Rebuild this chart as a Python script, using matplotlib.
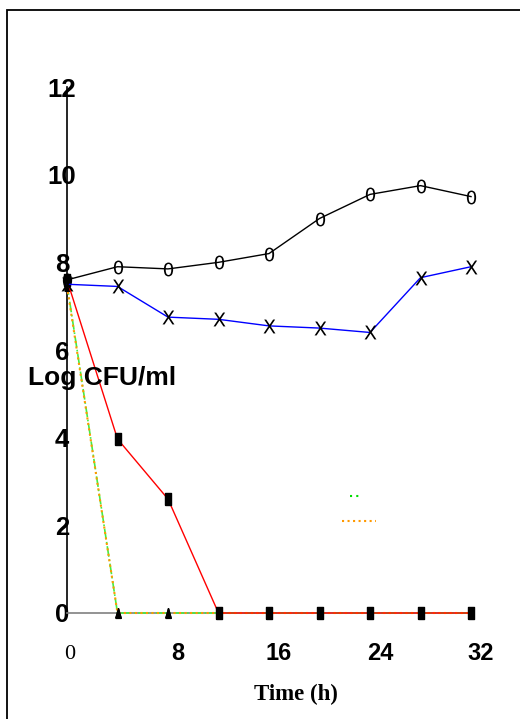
import matplotlib
matplotlib.use("Agg")
import matplotlib.pyplot as plt
from matplotlib.patches import Rectangle
from matplotlib.transforms import ScaledTranslation
from matplotlib.path import Path

# datos
tiempo = [0, 4, 8, 12, 16, 20, 24, 28, 32]
control = [7.6, 7.9, 7.85, 8.0, 8.2, 9.0, 9.55, 9.75, 9.5]
serie_x = [7.5, 7.45, 6.75, 6.7, 6.55, 6.5, 6.4, 7.65, 7.9]
serie_roja = [7.6, 3.97, 2.6, 0, 0, 0, 0, 0, 0]
serie_verde = [7.5, 0, 0, 0, 0, 0, 0, 0, 0]
serie_naranja = [7.45, 0, 0, 0, 0, 0, 0, 0, 0]

x_ticks = [0, 8, 16, 24, 32]
y_ticks = [0, 2, 4, 6, 8, 10, 12]

fig = plt.figure(figsize=(5.2, 7.19), dpi=100)
# marco exterior (se sale por la derecha y por abajo)
fig.patches.append(Rectangle((7 / 520, -0.1), 1.2, 1.1 - 10 / 719,
                             transform=fig.transFigure, fill=False,
                             edgecolor="black", linewidth=1.3))

ax = fig.add_axes([67 / 520, 106 / 719, 404 / 520, 526 / 719])
ax.set_xlim(0, 32)
ax.set_ylim(0, 12)

rect = Path([(-0.55, -1), (0.55, -1), (0.55, 1), (-0.55, 1), (-0.55, -1)])
tri = Path([(-0.55, -1), (0.55, -1), (0, 1), (-0.55, -1)])

ax.plot(tiempo, serie_verde, color="#44ee44", linestyle="-.", linewidth=1.2,
        marker=tri, markersize=7, markerfacecolor="black",
        markeredgecolor="black", clip_on=False, zorder=3)
ax.plot(tiempo, serie_naranja, color="#ff9900", linestyle=":", linewidth=1.5,
        marker=tri, markersize=7, markerfacecolor="black",
        markeredgecolor="black", clip_on=False, zorder=3)
ax.plot(tiempo, serie_roja, color="red", linewidth=1,
        marker=rect, markersize=9, markerfacecolor="black",
        markeredgecolor="black", clip_on=False, zorder=4)
ax.plot(tiempo, control, color="black", linewidth=1,
        marker=r"$\mathrm{0}$", markersize=10, markeredgewidth=0,
        markerfacecolor="black", clip_on=False, zorder=4)
ax.plot(tiempo, serie_x, color="blue", linewidth=1,
        marker=r"$\mathrm{X}$", markersize=10, markeredgewidth=0,
        markerfacecolor="black", clip_on=False, zorder=4)

# muestras de leyenda sin texto
ax.plot([0.70, 0.755], [0.222, 0.222], transform=ax.transAxes,
        color="#00dd00", linewidth=1.5, dashes=(1, 2, 1, 7))
ax.plot([0.68, 0.765], [0.175, 0.175], transform=ax.transAxes,
        color="#ff9900", linestyle=":", linewidth=1.5)

for s in ["top", "right"]:
    ax.spines[s].set_visible(False)
ax.spines["left"].set_color("black")
ax.spines["left"].set_linewidth(1.2)
ax.spines["bottom"].set_color("#808080")
ax.spines["bottom"].set_linewidth(1.2)
ax.tick_params(length=0)

ax.set_yticks(y_ticks)
ax.set_yticklabels([str(v) for v in y_ticks], fontsize=18.5, fontweight="bold",
                   family="Liberation Sans")
for lab in ax.get_yticklabels():
    lab.set_ha("center")
    lab.set_transform(lab.get_transform() + ScaledTranslation(-0.01, 0.02, fig.dpi_scale_trans))
ax.tick_params(axis="y", pad=3.5)

ax.set_xticks(x_ticks)
ax.set_xticklabels([str(v) for v in x_ticks], fontsize=17, fontweight="bold",
                   family="Liberation Sans")
ax.tick_params(axis="x", pad=21)
labs = ax.get_xticklabels()
labs[0].set_family("Liberation Serif")
labs[0].set_fontweight("normal")
labs[0].set_fontsize(16)
for i, lab in enumerate(labs):
    dx = 0.03 if i == 0 else 0.10
    dy = -0.03 if i == 0 else 0
    lab.set_transform(lab.get_transform() + ScaledTranslation(dx, dy, fig.dpi_scale_trans))

ax.set_xlabel("Time (h)", fontsize=16.5, fontweight="bold",
              family="Liberation Serif", labelpad=10)
ax.xaxis.set_label_coords(0.567, -0.135)

fig.text(28 / 520, 1 - 378 / 719, "Log CFU/ml", fontsize=19, fontweight="bold",
         family="Liberation Sans", ha="left", va="center")

fig.savefig("out.png", dpi=100)
